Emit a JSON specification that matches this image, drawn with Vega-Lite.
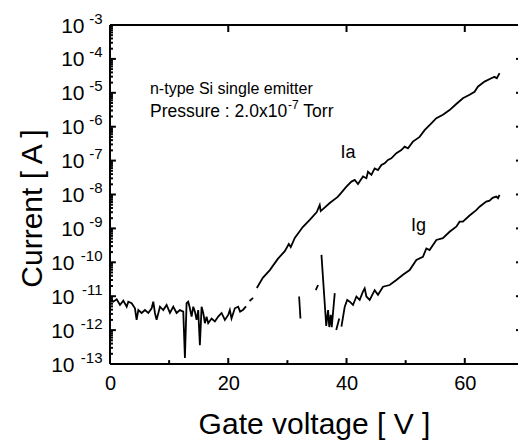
{
  "$schema": "https://vega.github.io/schema/vega-lite/v6.json",
  "width": 408,
  "height": 339,
  "autosize": "none",
  "padding": {"left": 110, "top": 25, "right": 0, "bottom": 77},
  "background": "white",
  "config": {
    "view": {"stroke": null},
    "font": "Liberation Sans",
    "axis": {"grid": false, "labelFont": "Liberation Sans", "titleFont": "Liberation Sans", "titleFontWeight": "normal"}
  },
  "datasets": {
    "curves": [
      {"curve": "Ia", "seg": 1, "v": 0.0, "i": 8.9e-12},
      {"curve": "Ia", "seg": 1, "v": 0.56, "i": 6.9e-12},
      {"curve": "Ia", "seg": 1, "v": 1.13, "i": 8.1e-12},
      {"curve": "Ia", "seg": 1, "v": 1.69, "i": 5.5e-12},
      {"curve": "Ia", "seg": 1, "v": 2.25, "i": 7.4e-12},
      {"curve": "Ia", "seg": 1, "v": 2.82, "i": 4.9e-12},
      {"curve": "Ia", "seg": 1, "v": 3.10, "i": 6.9e-12},
      {"curve": "Ia", "seg": 1, "v": 3.66, "i": 6.2e-12},
      {"curve": "Ia", "seg": 1, "v": 4.22, "i": 4.4e-12},
      {"curve": "Ia", "seg": 1, "v": 4.50, "i": 2.0e-12},
      {"curve": "Ia", "seg": 1, "v": 4.79, "i": 3.9e-12},
      {"curve": "Ia", "seg": 1, "v": 5.35, "i": 3.2e-12},
      {"curve": "Ia", "seg": 1, "v": 5.91, "i": 3.9e-12},
      {"curve": "Ia", "seg": 1, "v": 6.48, "i": 3.2e-12},
      {"curve": "Ia", "seg": 1, "v": 7.04, "i": 4.4e-12},
      {"curve": "Ia", "seg": 1, "v": 7.32, "i": 6.9e-12},
      {"curve": "Ia", "seg": 1, "v": 7.60, "i": 3.2e-12},
      {"curve": "Ia", "seg": 1, "v": 7.88, "i": 2.0e-12},
      {"curve": "Ia", "seg": 1, "v": 8.45, "i": 4.9e-12},
      {"curve": "Ia", "seg": 1, "v": 9.01, "i": 3.9e-12},
      {"curve": "Ia", "seg": 1, "v": 9.57, "i": 5.5e-12},
      {"curve": "Ia", "seg": 1, "v": 10.14, "i": 3.2e-12},
      {"curve": "Ia", "seg": 1, "v": 10.70, "i": 4.9e-12},
      {"curve": "Ia", "seg": 1, "v": 11.26, "i": 3.2e-12},
      {"curve": "Ia", "seg": 1, "v": 11.82, "i": 3.9e-12},
      {"curve": "Ia", "seg": 1, "v": 12.39, "i": 3.5e-12},
      {"curve": "Ia", "seg": 1, "v": 12.67, "i": 1.5e-13},
      {"curve": "Ia", "seg": 1, "v": 12.95, "i": 6.2e-12},
      {"curve": "Ia", "seg": 1, "v": 13.23, "i": 6.9e-12},
      {"curve": "Ia", "seg": 1, "v": 13.51, "i": 4.4e-12},
      {"curve": "Ia", "seg": 1, "v": 13.80, "i": 2.5e-12},
      {"curve": "Ia", "seg": 1, "v": 14.08, "i": 4.9e-12},
      {"curve": "Ia", "seg": 1, "v": 14.36, "i": 3.5e-12},
      {"curve": "Ia", "seg": 1, "v": 14.64, "i": 2.0e-12},
      {"curve": "Ia", "seg": 1, "v": 14.92, "i": 3.9e-12},
      {"curve": "Ia", "seg": 1, "v": 15.20, "i": 3.6e-13},
      {"curve": "Ia", "seg": 1, "v": 15.49, "i": 4.9e-12},
      {"curve": "Ia", "seg": 1, "v": 15.77, "i": 3.2e-12},
      {"curve": "Ia", "seg": 1, "v": 16.05, "i": 1.6e-12},
      {"curve": "Ia", "seg": 1, "v": 16.33, "i": 2.5e-12},
      {"curve": "Ia", "seg": 1, "v": 16.61, "i": 1.6e-12},
      {"curve": "Ia", "seg": 1, "v": 17.18, "i": 2.2e-12},
      {"curve": "Ia", "seg": 1, "v": 17.74, "i": 1.8e-12},
      {"curve": "Ia", "seg": 1, "v": 18.30, "i": 2.5e-12},
      {"curve": "Ia", "seg": 1, "v": 18.87, "i": 3.2e-12},
      {"curve": "Ia", "seg": 1, "v": 19.43, "i": 2.0e-12},
      {"curve": "Ia", "seg": 1, "v": 19.99, "i": 2.8e-12},
      {"curve": "Ia", "seg": 1, "v": 20.27, "i": 3.9e-12},
      {"curve": "Ia", "seg": 1, "v": 20.55, "i": 2.2e-12},
      {"curve": "Ia", "seg": 1, "v": 21.11, "i": 4.4e-12},
      {"curve": "Ia", "seg": 1, "v": 21.68, "i": 4.9e-12},
      {"curve": "Ia", "seg": 1, "v": 22.0, "i": 3.5e-12},
      {"curve": "Ia", "seg": 1, "v": 22.52, "i": 4.0e-12},
      {"curve": "Ia", "seg": 1, "v": 23.0, "i": 5.0e-12},
      {"curve": "Ia", "seg": 2, "v": 23.6, "i": 7.2e-12},
      {"curve": "Ia", "seg": 2, "v": 24.2, "i": 8.9e-12},
      {"curve": "Ia", "seg": 3, "v": 24.83, "i": 1.74e-11},
      {"curve": "Ia", "seg": 3, "v": 25.84, "i": 3.47e-11},
      {"curve": "Ia", "seg": 3, "v": 27.03, "i": 5.89e-11},
      {"curve": "Ia", "seg": 3, "v": 28.38, "i": 1.26e-10},
      {"curve": "Ia", "seg": 3, "v": 29.56, "i": 2.14e-10},
      {"curve": "Ia", "seg": 3, "v": 30.24, "i": 3.47e-10},
      {"curve": "Ia", "seg": 3, "v": 30.57, "i": 2.82e-10},
      {"curve": "Ia", "seg": 3, "v": 31.25, "i": 5.25e-10},
      {"curve": "Ia", "seg": 3, "v": 32.60, "i": 1.10e-9},
      {"curve": "Ia", "seg": 3, "v": 33.78, "i": 1.78e-9},
      {"curve": "Ia", "seg": 3, "v": 34.97, "i": 3.02e-9},
      {"curve": "Ia", "seg": 3, "v": 35.47, "i": 4.90e-9},
      {"curve": "Ia", "seg": 3, "v": 35.64, "i": 3.24e-9},
      {"curve": "Ia", "seg": 3, "v": 37.16, "i": 5.62e-9},
      {"curve": "Ia", "seg": 3, "v": 38.51, "i": 8.51e-9},
      {"curve": "Ia", "seg": 3, "v": 39.10, "i": 1.12e-8},
      {"curve": "Ia", "seg": 3, "v": 39.98, "i": 1.70e-8},
      {"curve": "Ia", "seg": 3, "v": 40.83, "i": 2.40e-8},
      {"curve": "Ia", "seg": 3, "v": 41.39, "i": 2.69e-8},
      {"curve": "Ia", "seg": 3, "v": 41.94, "i": 2.04e-8},
      {"curve": "Ia", "seg": 3, "v": 42.79, "i": 3.39e-8},
      {"curve": "Ia", "seg": 3, "v": 43.36, "i": 3.02e-8},
      {"curve": "Ia", "seg": 3, "v": 43.63, "i": 4.68e-8},
      {"curve": "Ia", "seg": 3, "v": 44.21, "i": 3.80e-8},
      {"curve": "Ia", "seg": 3, "v": 44.76, "i": 5.89e-8},
      {"curve": "Ia", "seg": 3, "v": 45.32, "i": 5.25e-8},
      {"curve": "Ia", "seg": 3, "v": 45.90, "i": 7.41e-8},
      {"curve": "Ia", "seg": 3, "v": 46.45, "i": 8.32e-8},
      {"curve": "Ia", "seg": 3, "v": 47.01, "i": 1.05e-7},
      {"curve": "Ia", "seg": 3, "v": 47.58, "i": 1.17e-7},
      {"curve": "Ia", "seg": 3, "v": 48.43, "i": 1.66e-7},
      {"curve": "Ia", "seg": 3, "v": 49.27, "i": 2.04e-7},
      {"curve": "Ia", "seg": 3, "v": 49.83, "i": 2.57e-7},
      {"curve": "Ia", "seg": 3, "v": 50.39, "i": 2.29e-7},
      {"curve": "Ia", "seg": 3, "v": 51.23, "i": 3.63e-7},
      {"curve": "Ia", "seg": 3, "v": 52.36, "i": 5.01e-7},
      {"curve": "Ia", "seg": 3, "v": 53.21, "i": 7.94e-7},
      {"curve": "Ia", "seg": 3, "v": 54.34, "i": 1.26e-6},
      {"curve": "Ia", "seg": 3, "v": 55.19, "i": 1.78e-6},
      {"curve": "Ia", "seg": 3, "v": 56.30, "i": 2.24e-6},
      {"curve": "Ia", "seg": 3, "v": 57.43, "i": 3.09e-6},
      {"curve": "Ia", "seg": 3, "v": 58.56, "i": 4.68e-6},
      {"curve": "Ia", "seg": 3, "v": 59.68, "i": 6.92e-6},
      {"curve": "Ia", "seg": 3, "v": 60.81, "i": 8.71e-6},
      {"curve": "Ia", "seg": 3, "v": 61.66, "i": 1.07e-5},
      {"curve": "Ia", "seg": 3, "v": 62.21, "i": 1.51e-5},
      {"curve": "Ia", "seg": 3, "v": 63.34, "i": 2.14e-5},
      {"curve": "Ia", "seg": 3, "v": 64.48, "i": 2.69e-5},
      {"curve": "Ia", "seg": 3, "v": 65.03, "i": 2.95e-5},
      {"curve": "Ia", "seg": 3, "v": 65.42, "i": 2.69e-5},
      {"curve": "Ia", "seg": 3, "v": 65.88, "i": 3.80e-5},
      {"curve": "Ig", "seg": 1, "v": 31.98, "i": 9.8e-12},
      {"curve": "Ig", "seg": 1, "v": 32.21, "i": 2.2e-12},
      {"curve": "Ig", "seg": 2, "v": 34.80, "i": 1.51e-11},
      {"curve": "Ig", "seg": 2, "v": 35.19, "i": 2.14e-11},
      {"curve": "Ig", "seg": 3, "v": 35.76, "i": 1.66e-10},
      {"curve": "Ig", "seg": 3, "v": 36.57, "i": 1.32e-12},
      {"curve": "Ig", "seg": 3, "v": 36.88, "i": 3.9e-12},
      {"curve": "Ig", "seg": 3, "v": 37.08, "i": 1.23e-12},
      {"curve": "Ig", "seg": 3, "v": 37.33, "i": 2.8e-12},
      {"curve": "Ig", "seg": 3, "v": 37.50, "i": 1.23e-12},
      {"curve": "Ig", "seg": 3, "v": 38.01, "i": 1.23e-11},
      {"curve": "Ig", "seg": 4, "v": 38.26, "i": 1.0e-12},
      {"curve": "Ig", "seg": 4, "v": 38.77, "i": 2.2e-12},
      {"curve": "Ig", "seg": 5, "v": 39.14, "i": 1.26e-12},
      {"curve": "Ig", "seg": 5, "v": 39.70, "i": 4.9e-12},
      {"curve": "Ig", "seg": 5, "v": 40.12, "i": 7.8e-12},
      {"curve": "Ig", "seg": 5, "v": 40.54, "i": 6.9e-12},
      {"curve": "Ig", "seg": 5, "v": 41.10, "i": 5.5e-12},
      {"curve": "Ig", "seg": 5, "v": 41.67, "i": 9.8e-12},
      {"curve": "Ig", "seg": 5, "v": 42.23, "i": 7.8e-12},
      {"curve": "Ig", "seg": 5, "v": 42.74, "i": 1.32e-11},
      {"curve": "Ig", "seg": 5, "v": 43.07, "i": 1.70e-11},
      {"curve": "Ig", "seg": 5, "v": 43.36, "i": 9.8e-12},
      {"curve": "Ig", "seg": 5, "v": 43.92, "i": 7.8e-12},
      {"curve": "Ig", "seg": 5, "v": 44.76, "i": 1.51e-11},
      {"curve": "Ig", "seg": 5, "v": 45.32, "i": 1.10e-11},
      {"curve": "Ig", "seg": 5, "v": 46.17, "i": 1.91e-11},
      {"curve": "Ig", "seg": 5, "v": 47.30, "i": 2.14e-11},
      {"curve": "Ig", "seg": 5, "v": 48.43, "i": 3.02e-11},
      {"curve": "Ig", "seg": 5, "v": 49.54, "i": 4.27e-11},
      {"curve": "Ig", "seg": 5, "v": 50.68, "i": 5.89e-11},
      {"curve": "Ig", "seg": 5, "v": 51.81, "i": 1.17e-10},
      {"curve": "Ig", "seg": 5, "v": 52.92, "i": 1.45e-10},
      {"curve": "Ig", "seg": 5, "v": 53.50, "i": 2.57e-10},
      {"curve": "Ig", "seg": 5, "v": 54.05, "i": 2.29e-10},
      {"curve": "Ig", "seg": 5, "v": 55.19, "i": 4.57e-10},
      {"curve": "Ig", "seg": 5, "v": 56.30, "i": 5.13e-10},
      {"curve": "Ig", "seg": 5, "v": 57.43, "i": 7.94e-10},
      {"curve": "Ig", "seg": 5, "v": 58.56, "i": 1.12e-9},
      {"curve": "Ig", "seg": 5, "v": 59.12, "i": 1.58e-9},
      {"curve": "Ig", "seg": 5, "v": 59.68, "i": 1.58e-9},
      {"curve": "Ig", "seg": 5, "v": 60.81, "i": 2.40e-9},
      {"curve": "Ig", "seg": 5, "v": 61.94, "i": 3.47e-9},
      {"curve": "Ig", "seg": 5, "v": 62.50, "i": 4.37e-9},
      {"curve": "Ig", "seg": 5, "v": 63.63, "i": 6.17e-9},
      {"curve": "Ig", "seg": 5, "v": 64.19, "i": 6.61e-9},
      {"curve": "Ig", "seg": 5, "v": 64.70, "i": 7.94e-9},
      {"curve": "Ig", "seg": 5, "v": 65.32, "i": 8.71e-9},
      {"curve": "Ig", "seg": 5, "v": 65.62, "i": 7.76e-9},
      {"curve": "Ig", "seg": 5, "v": 65.88, "i": 9.77e-9}
    ],
    "notes": [
      {"text": "n-type Si single emitter", "v": 6.76, "i": 1.29e-5, "size": 16},
      {"text": "Pressure : 2.0x10", "v": 6.76, "i": 2.69e-6, "size": 17.5},
      {"text": "-7", "v": 30.1, "i": 4.3e-6, "size": 12},
      {"text": "Torr", "v": 32.7, "i": 2.69e-6, "size": 17.5},
      {"text": "Ia", "v": 39.0, "i": 1.66e-7, "size": 18},
      {"text": "Ig", "v": 50.9, "i": 1.15e-9, "size": 18}
    ],
    "hrules": [
      {"part": "frame bottom", "v": 0, "v2": 69, "i": 1e-13},
      {"part": "frame top", "v": 0, "v2": 69, "i": 1e-3},
      {"part": "left major", "v": 0, "v2": 1.0, "i": 1e-12},
      {"part": "left major", "v": 0, "v2": 1.0, "i": 1e-11},
      {"part": "left major", "v": 0, "v2": 1.0, "i": 1e-10},
      {"part": "left major", "v": 0, "v2": 1.0, "i": 1e-9},
      {"part": "left major", "v": 0, "v2": 1.0, "i": 1e-8},
      {"part": "left major", "v": 0, "v2": 1.0, "i": 1e-7},
      {"part": "left major", "v": 0, "v2": 1.0, "i": 1e-6},
      {"part": "left major", "v": 0, "v2": 1.0, "i": 1e-5},
      {"part": "left major", "v": 0, "v2": 1.0, "i": 1e-4},
      {"part": "right major", "v": 68.66, "v2": 69, "i": 1e-12},
      {"part": "right major", "v": 68.66, "v2": 69, "i": 1e-11},
      {"part": "right major", "v": 68.66, "v2": 69, "i": 1e-10},
      {"part": "right major", "v": 68.66, "v2": 69, "i": 1e-9},
      {"part": "right major", "v": 68.66, "v2": 69, "i": 1e-8},
      {"part": "right major", "v": 68.66, "v2": 69, "i": 1e-7},
      {"part": "right major", "v": 68.66, "v2": 69, "i": 1e-6},
      {"part": "right major", "v": 68.66, "v2": 69, "i": 1e-5},
      {"part": "right major", "v": 68.66, "v2": 69, "i": 1e-4},
      {"part": "left minor", "v": 0, "v2": 0.5, "i": 2e-13}, {"part": "left minor", "v": 0, "v2": 0.5, "i": 3e-13}, {"part": "left minor", "v": 0, "v2": 0.5, "i": 4e-13}, {"part": "left minor", "v": 0, "v2": 0.5, "i": 5e-13}, {"part": "left minor", "v": 0, "v2": 0.5, "i": 6e-13}, {"part": "left minor", "v": 0, "v2": 0.5, "i": 7e-13}, {"part": "left minor", "v": 0, "v2": 0.5, "i": 8e-13}, {"part": "left minor", "v": 0, "v2": 0.5, "i": 9e-13},
      {"part": "left minor", "v": 0, "v2": 0.5, "i": 2e-12}, {"part": "left minor", "v": 0, "v2": 0.5, "i": 3e-12}, {"part": "left minor", "v": 0, "v2": 0.5, "i": 4e-12}, {"part": "left minor", "v": 0, "v2": 0.5, "i": 5e-12}, {"part": "left minor", "v": 0, "v2": 0.5, "i": 6e-12}, {"part": "left minor", "v": 0, "v2": 0.5, "i": 7e-12}, {"part": "left minor", "v": 0, "v2": 0.5, "i": 8e-12}, {"part": "left minor", "v": 0, "v2": 0.5, "i": 9e-12},
      {"part": "left minor", "v": 0, "v2": 0.5, "i": 2e-11}, {"part": "left minor", "v": 0, "v2": 0.5, "i": 3e-11}, {"part": "left minor", "v": 0, "v2": 0.5, "i": 4e-11}, {"part": "left minor", "v": 0, "v2": 0.5, "i": 5e-11}, {"part": "left minor", "v": 0, "v2": 0.5, "i": 6e-11}, {"part": "left minor", "v": 0, "v2": 0.5, "i": 7e-11}, {"part": "left minor", "v": 0, "v2": 0.5, "i": 8e-11}, {"part": "left minor", "v": 0, "v2": 0.5, "i": 9e-11},
      {"part": "left minor", "v": 0, "v2": 0.5, "i": 2e-10}, {"part": "left minor", "v": 0, "v2": 0.5, "i": 3e-10}, {"part": "left minor", "v": 0, "v2": 0.5, "i": 4e-10}, {"part": "left minor", "v": 0, "v2": 0.5, "i": 5e-10}, {"part": "left minor", "v": 0, "v2": 0.5, "i": 6e-10}, {"part": "left minor", "v": 0, "v2": 0.5, "i": 7e-10}, {"part": "left minor", "v": 0, "v2": 0.5, "i": 8e-10}, {"part": "left minor", "v": 0, "v2": 0.5, "i": 9e-10},
      {"part": "left minor", "v": 0, "v2": 0.5, "i": 2e-9}, {"part": "left minor", "v": 0, "v2": 0.5, "i": 3e-9}, {"part": "left minor", "v": 0, "v2": 0.5, "i": 4e-9}, {"part": "left minor", "v": 0, "v2": 0.5, "i": 5e-9}, {"part": "left minor", "v": 0, "v2": 0.5, "i": 6e-9}, {"part": "left minor", "v": 0, "v2": 0.5, "i": 7e-9}, {"part": "left minor", "v": 0, "v2": 0.5, "i": 8e-9}, {"part": "left minor", "v": 0, "v2": 0.5, "i": 9e-9},
      {"part": "left minor", "v": 0, "v2": 0.5, "i": 2e-8}, {"part": "left minor", "v": 0, "v2": 0.5, "i": 3e-8}, {"part": "left minor", "v": 0, "v2": 0.5, "i": 4e-8}, {"part": "left minor", "v": 0, "v2": 0.5, "i": 5e-8}, {"part": "left minor", "v": 0, "v2": 0.5, "i": 6e-8}, {"part": "left minor", "v": 0, "v2": 0.5, "i": 7e-8}, {"part": "left minor", "v": 0, "v2": 0.5, "i": 8e-8}, {"part": "left minor", "v": 0, "v2": 0.5, "i": 9e-8},
      {"part": "left minor", "v": 0, "v2": 0.5, "i": 2e-7}, {"part": "left minor", "v": 0, "v2": 0.5, "i": 3e-7}, {"part": "left minor", "v": 0, "v2": 0.5, "i": 4e-7}, {"part": "left minor", "v": 0, "v2": 0.5, "i": 5e-7}, {"part": "left minor", "v": 0, "v2": 0.5, "i": 6e-7}, {"part": "left minor", "v": 0, "v2": 0.5, "i": 7e-7}, {"part": "left minor", "v": 0, "v2": 0.5, "i": 8e-7}, {"part": "left minor", "v": 0, "v2": 0.5, "i": 9e-7},
      {"part": "left minor", "v": 0, "v2": 0.5, "i": 2e-6}, {"part": "left minor", "v": 0, "v2": 0.5, "i": 3e-6}, {"part": "left minor", "v": 0, "v2": 0.5, "i": 4e-6}, {"part": "left minor", "v": 0, "v2": 0.5, "i": 5e-6}, {"part": "left minor", "v": 0, "v2": 0.5, "i": 6e-6}, {"part": "left minor", "v": 0, "v2": 0.5, "i": 7e-6}, {"part": "left minor", "v": 0, "v2": 0.5, "i": 8e-6}, {"part": "left minor", "v": 0, "v2": 0.5, "i": 9e-6},
      {"part": "left minor", "v": 0, "v2": 0.5, "i": 2e-5}, {"part": "left minor", "v": 0, "v2": 0.5, "i": 3e-5}, {"part": "left minor", "v": 0, "v2": 0.5, "i": 4e-5}, {"part": "left minor", "v": 0, "v2": 0.5, "i": 5e-5}, {"part": "left minor", "v": 0, "v2": 0.5, "i": 6e-5}, {"part": "left minor", "v": 0, "v2": 0.5, "i": 7e-5}, {"part": "left minor", "v": 0, "v2": 0.5, "i": 8e-5}, {"part": "left minor", "v": 0, "v2": 0.5, "i": 9e-5},
      {"part": "left minor", "v": 0, "v2": 0.5, "i": 2e-4}, {"part": "left minor", "v": 0, "v2": 0.5, "i": 3e-4}, {"part": "left minor", "v": 0, "v2": 0.5, "i": 4e-4}, {"part": "left minor", "v": 0, "v2": 0.5, "i": 5e-4}, {"part": "left minor", "v": 0, "v2": 0.5, "i": 6e-4}, {"part": "left minor", "v": 0, "v2": 0.5, "i": 7e-4}, {"part": "left minor", "v": 0, "v2": 0.5, "i": 8e-4}, {"part": "left minor", "v": 0, "v2": 0.5, "i": 9e-4}
    ],
    "vrules": [
      {"part": "frame left", "v": 0, "i": 1e-13, "i2": 1e-3},
      {"part": "bottom major", "v": 20, "i": 1e-13, "i2": 1.5e-13},
      {"part": "bottom major", "v": 40, "i": 1e-13, "i2": 1.5e-13},
      {"part": "bottom major", "v": 60, "i": 1e-13, "i2": 1.5e-13},
      {"part": "bottom minor", "v": 10, "i": 1e-13, "i2": 1.3e-13},
      {"part": "bottom minor", "v": 30, "i": 1e-13, "i2": 1.3e-13},
      {"part": "bottom minor", "v": 50, "i": 1e-13, "i2": 1.3e-13},
      {"part": "top major", "v": 20, "i": 6.2e-4, "i2": 1e-3},
      {"part": "top major", "v": 40, "i": 6.2e-4, "i2": 1e-3},
      {"part": "top major", "v": 60, "i": 6.2e-4, "i2": 1e-3}
    ]
  },
  "resolve": {"axis": {"x": "independent", "y": "independent"}},
  "layer": [
    {
      "data": {"name": "curves"},
      "mark": {"type": "line", "color": "black", "strokeWidth": 1.8, "clip": true},
      "encoding": {
        "x": {
          "field": "v", "type": "quantitative",
          "scale": {"domain": [0, 69], "nice": false, "zero": false},
          "axis": {
            "orient": "bottom",
            "values": [0, 20, 40, 60],
            "labelOverlap": false,
            "labelFontSize": 20,
            "labelColor": "black",
            "labelPadding": 9,
            "labelFlush": false,
            "domain": false,
            "ticks": false,
            "title": "Gate voltage [ V ]",
            "titleColor": "black",
            "titleFontSize": 30,
            "titleBaseline": "alphabetic",
            "titleY": 69
          }
        },
        "y": {
          "field": "i", "type": "quantitative",
          "scale": {"type": "log", "domain": [1e-13, 1e-3], "nice": false},
          "axis": {
            "orient": "left",
            "values": [1e-9, 1e-8, 1e-7, 1e-6, 1e-5, 1e-4, 1e-3],
            "labelExpr": "'10'",
            "labelOverlap": false,
            "labelFontSize": 21,
            "labelColor": "black",
            "labelBaseline": "middle",
            "labelOffset": 1,
            "labelFlush": false,
            "labelPadding": 26,
            "domain": false,
            "ticks": false,
            "title": "Current [ A ]",
            "titleColor": "black",
            "titleFontSize": 30,
            "titleBaseline": "alphabetic",
            "titleAngle": -90,
            "titleX": -69,
            "titleY": 183
          }
        },
        "detail": [{"field": "curve"}, {"field": "seg"}]
      }
    },
    {
      "data": {"name": "curves"},
      "mark": {"type": "line", "strokeOpacity": 0},
      "encoding": {
        "x": {"field": "v", "type": "quantitative", "axis": null},
        "y": {
          "field": "i", "type": "quantitative",
          "axis": {
            "orient": "left",
            "values": [1e-13, 1e-12, 1e-11, 1e-10],
            "labelExpr": "'10'",
            "labelOverlap": false,
            "labelFontSize": 21,
            "labelColor": "black",
            "labelBaseline": "middle",
            "labelOffset": 1,
            "labelFlush": false,
            "labelPadding": 36,
            "domain": false,
            "ticks": false,
            "title": null
          }
        },
        "detail": [{"field": "curve"}, {"field": "seg"}]
      }
    },
    {
      "data": {"name": "curves"},
      "mark": {"type": "line", "strokeOpacity": 0},
      "encoding": {
        "x": {"field": "v", "type": "quantitative", "axis": null},
        "y": {
          "field": "i", "type": "quantitative",
          "axis": {
            "orient": "left",
            "values": [1e-13, 1e-12, 1e-11, 1e-10, 1e-9, 1e-8, 1e-7, 1e-6, 1e-5, 1e-4, 1e-3],
            "labelExpr": "'-' + format(-round(log(datum.value)/LN10), 'd')",
            "labelOverlap": false,
            "labelFontSize": 15,
            "labelColor": "black",
            "labelBaseline": "middle",
            "labelOffset": -7,
            "labelFlush": false,
            "labelPadding": 8,
            "domain": false,
            "ticks": false,
            "title": null
          }
        },
        "detail": [{"field": "curve"}, {"field": "seg"}]
      }
    },
    {
      "data": {"name": "hrules"},
      "mark": {"type": "rule", "color": "black", "strokeWidth": 2},
      "encoding": {
        "x": {"field": "v", "type": "quantitative", "axis": null},
        "x2": {"field": "v2"},
        "y": {"field": "i", "type": "quantitative", "axis": null}
      }
    },
    {
      "data": {"name": "vrules"},
      "mark": {"type": "rule", "color": "black", "strokeWidth": 2},
      "encoding": {
        "x": {"field": "v", "type": "quantitative", "axis": null},
        "y": {"field": "i", "type": "quantitative", "axis": null},
        "y2": {"field": "i2"}
      }
    },
    {
      "data": {"name": "notes"},
      "mark": {"type": "text", "align": "left", "baseline": "middle", "color": "black", "font": "Liberation Sans"},
      "encoding": {
        "x": {"field": "v", "type": "quantitative", "axis": null},
        "y": {"field": "i", "type": "quantitative", "axis": null},
        "text": {"field": "text"},
        "size": {"field": "size", "type": "quantitative", "scale": null}
      }
    }
  ]
}
